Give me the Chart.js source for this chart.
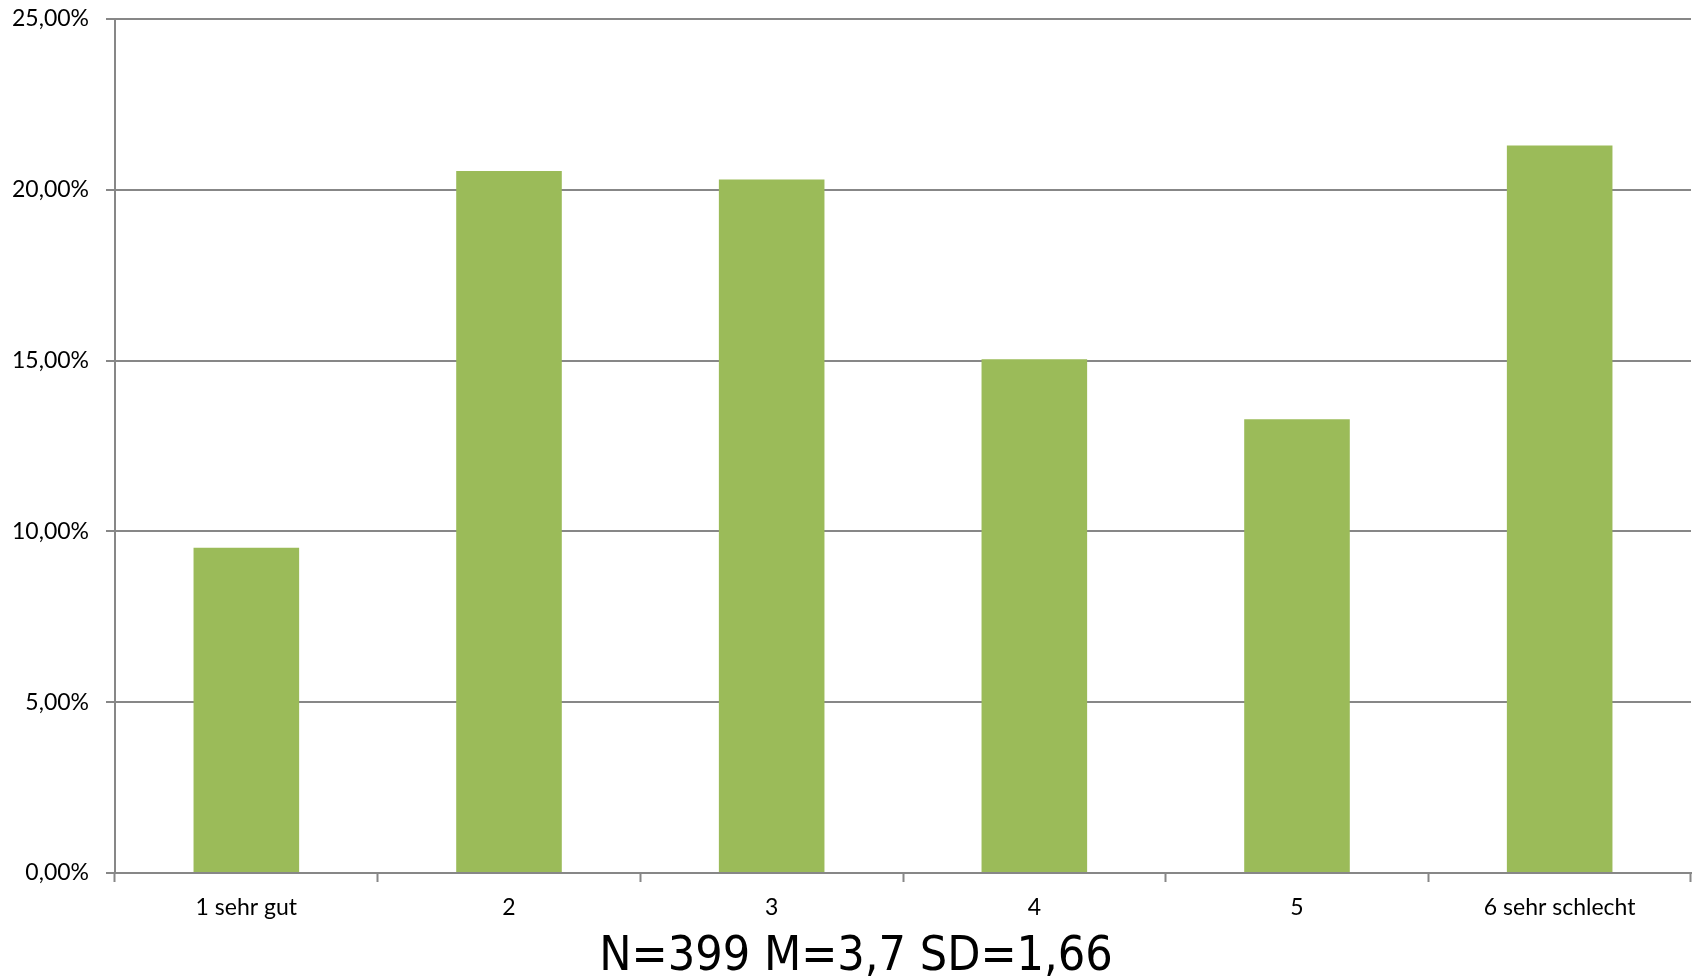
<!DOCTYPE html>
<html>
<head>
<meta charset="utf-8">
<script src="https://cdn.jsdelivr.net/npm/chart.js@4/dist/chart.umd.min.js"></script>
<style>
  html, body { margin: 0; padding: 0; background: #fff; }
  #wrap { width: 1696px; height: 978px; }
</style>
</head>
<body>
<div id="wrap"><canvas id="grafico" width="1696" height="978"></canvas></div>
<script>
// Kategorien und Werte (Anteile in %)
const kategorien = ["1 sehr gut", "2", "3", "4", "5", "6 sehr schlecht"];
const anteile = [9.52, 20.55, 20.30, 15.04, 13.28, 21.30];
const yTicks = [0, 5, 10, 15, 20, 25];
const fussnote = "N=399 M=3,7 SD=1,66";

const gruen = "#9BBB59";
const grau = "#878787";

function formatProzent(v) {
  return v.toFixed(2).replace(".", ",") + "%";
}

// Fußnote unter der Achse (etwas links der Diagrammmitte, wie im Original)
const fussnotePlugin = {
  id: "fussnote",
  afterDraw(chart) {
    const c = chart.ctx;
    c.save();
    c.fillStyle = "#000";
    c.font = "48px 'DejaVu Sans Condensed', 'DejaVu Sans'";
    c.textAlign = "center";
    c.textBaseline = "alphabetic";
    c.fillText(fussnote, 856, 970);
    c.restore();
  },
};

const ctx = document.getElementById("grafico").getContext("2d");
new Chart(ctx, {
  type: "bar",
  data: {
    labels: kategorien,
    datasets: [{
      data: anteile,
      backgroundColor: gruen,
      borderWidth: 0,
      barPercentage: 0.402,
      categoryPercentage: 1.0,
    }],
  },
  plugins: [fussnotePlugin],
  options: {
    responsive: false,
    animation: false,
    layout: { padding: { left: 0, right: 5, top: 19, bottom: 55 } },
    plugins: {
      legend: { display: false },
      tooltip: { enabled: false },
    },
    scales: {
      x: {
        grid: {
          drawOnChartArea: false,
          drawTicks: true,
          tickLength: 9,
          tickWidth: 2,
          tickColor: grau,
          offset: true,
        },
        border: { display: true, color: grau, width: 2 },
        ticks: {
          color: "#000",
          font: { family: "Lato", size: 23 },
          padding: 12,
          maxRotation: 0,
        },
        afterFit(scale) { scale.height = 50; },
      },
      y: {
        min: 0,
        max: 25,
        afterBuildTicks(scale) { scale.ticks = yTicks.map(v => ({ value: v })); },
        grid: {
          color: grau,
          lineWidth: 2,
          tickLength: 9,
          tickColor: grau,
        },
        border: { display: true, color: grau, width: 2 },
        ticks: {
          color: "#000",
          font: { family: "Lato", size: 23 },
          padding: 17,
          callback: v => formatProzent(v),
        },
        afterFit(scale) {
          scale.width = 115;
          scale.paddingTop = 0;
          scale.paddingBottom = 0;
        },
      },
    },
  },
});
</script>
</body>
</html>
